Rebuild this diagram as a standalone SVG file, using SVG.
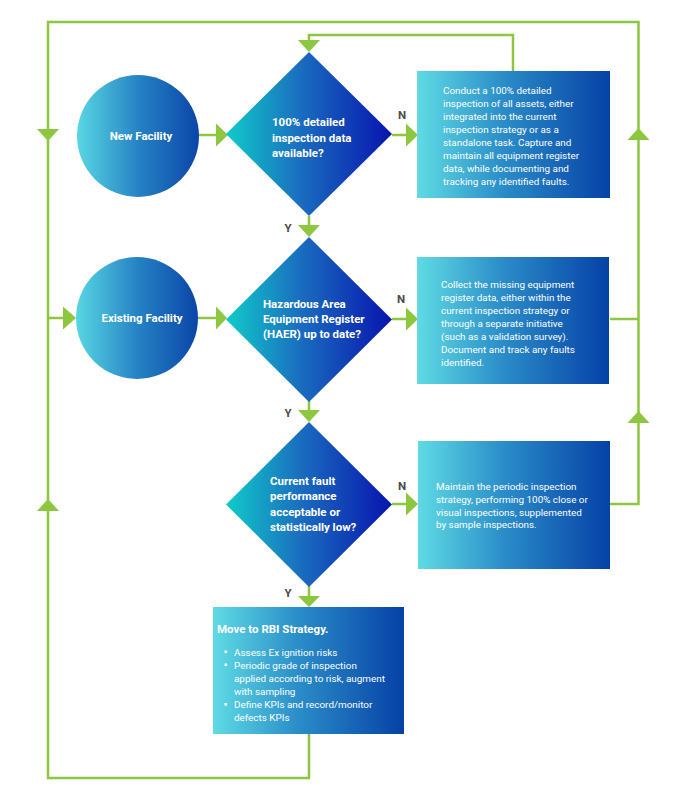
<svg xmlns="http://www.w3.org/2000/svg" width="690" height="806" viewBox="0 0 690 806">
<defs>
<linearGradient id="gBox" x1="0" y1="0" x2="1" y2="0">
<stop offset="0" stop-color="#5fdbe4"/>
<stop offset="0.45" stop-color="#2a8cc8"/>
<stop offset="1" stop-color="#0641a6"/>
</linearGradient>
<linearGradient id="gCircle" x1="0" y1="0" x2="1" y2="0">
<stop offset="0" stop-color="#58d7e3"/>
<stop offset="0.5" stop-color="#2683c4"/>
<stop offset="1" stop-color="#0a45a8"/>
</linearGradient>
<linearGradient id="gDiamond" x1="0" y1="0" x2="1" y2="0">
<stop offset="0" stop-color="#10cbc9"/>
<stop offset="0.45" stop-color="#1a6dbf"/>
<stop offset="1" stop-color="#0714ae"/>
</linearGradient>
<style>
.line{fill:none;stroke:#8dc63f;stroke-width:2.5}
.arr{fill:#8dc63f}
.lbl{font-family:Roboto,"Liberation Sans",sans-serif;font-weight:bold;font-size:11.5px;fill:#fff}
.txt{font-family:Roboto,"Liberation Sans",sans-serif;font-size:9.9px;fill:#fff}
.yn{font-family:Roboto,"Liberation Sans",sans-serif;font-weight:bold;font-size:11.5px;fill:#4a4a4a}
</style>
</defs>
<rect width="690" height="806" fill="#fff"/>
<g id="connectors">
<polyline class="line" points="309,734 309,778 48,778 48,22 638.5,22 638.5,504 610,504"/>
<line class="line" x1="48" y1="318" x2="64" y2="318"/>
<line class="line" x1="610" y1="319" x2="638.5" y2="319"/>
<polyline class="line" points="513,71 513,35 309,35 309,41"/>
<line class="line" x1="199" y1="135" x2="218" y2="135"/>
<line class="line" x1="198" y1="318" x2="218" y2="318"/>
<line class="line" x1="392" y1="135" x2="408" y2="135"/>
<line class="line" x1="392" y1="319" x2="408" y2="319"/>
<line class="line" x1="392" y1="504" x2="408" y2="504"/>
<line class="line" x1="309" y1="216" x2="309" y2="226"/>
<line class="line" x1="309" y1="401" x2="309" y2="411"/>
<line class="line" x1="309" y1="586" x2="309" y2="597"/>
<polygon class="arr" points="298,40 320,40 309,52"/>
<polygon class="arr" points="37,129 59,129 48,141"/>
<polygon class="arr" points="37,511 59,511 48,499"/>
<polygon class="arr" points="627.5,140 649.5,140 638.5,128"/>
<polygon class="arr" points="627.5,423 649.5,423 638.5,411"/>
<polygon class="arr" points="63,306.5 63,329.5 76,318"/>
<polygon class="arr" points="216,123.5 216,146.5 228,135"/>
<polygon class="arr" points="216,306.5 216,329.5 227,318"/>
<polygon class="arr" points="406,123.5 406,146.5 418,135"/>
<polygon class="arr" points="406,307.5 406,330.5 418,319"/>
<polygon class="arr" points="406,492.5 406,515.5 418,504"/>
<polygon class="arr" points="298,225 320,225 309,237"/>
<polygon class="arr" points="298,410 320,410 309,422"/>
<polygon class="arr" points="298,596 320,596 309,607"/>
<text class="yn" x="402" y="119" text-anchor="middle">N</text>
<text class="yn" x="401" y="303" text-anchor="middle">N</text>
<text class="yn" x="402" y="490" text-anchor="middle">N</text>
<text class="yn" x="288" y="232" text-anchor="middle">Y</text>
<text class="yn" x="288" y="417" text-anchor="middle">Y</text>
<text class="yn" x="288" y="597" text-anchor="middle">Y</text>
</g>
<g id="new-facility">
<circle cx="138" cy="136" r="61" fill="url(#gCircle)"/>
<text class="lbl" x="141" y="139.5" text-anchor="middle">New Facility</text>
</g>
<g id="existing-facility">
<circle cx="137" cy="318" r="61" fill="url(#gCircle)"/>
<text class="lbl" x="142" y="322" text-anchor="middle">Existing Facility</text>
</g>
<g id="decision-1">
<polygon points="309,52 392,134 309,216 226,134" fill="url(#gDiamond)"/>
<text class="lbl" x="272"><tspan x="272" y="126">100% detailed</tspan><tspan x="272" y="142">inspection data</tspan><tspan x="272" y="157">available?</tspan></text>
</g>
<g id="decision-2">
<polygon points="309,237 392,319.5 309,402 226,319.5" fill="url(#gDiamond)"/>
<text class="lbl" x="263"><tspan x="263" y="308">Hazardous Area</tspan><tspan x="263" y="323">Equipment Register</tspan><tspan x="263" y="338">(HAER) up to date?</tspan></text>
</g>
<g id="decision-3">
<polygon points="309,422 392,504.5 309,587 226,504.5" fill="url(#gDiamond)"/>
<text class="lbl" x="270"><tspan x="270" y="485">Current fault</tspan><tspan x="270" y="500">performance</tspan><tspan x="270" y="516">acceptable or</tspan><tspan x="270" y="531">statistically low?</tspan></text>
</g>
<g id="action-1">
<rect x="417" y="71" width="193" height="127" fill="url(#gBox)"/>
<text class="txt"><tspan x="443" y="93.5">Conduct a 100% detailed</tspan><tspan x="443" y="106.5">inspection of all assets, either</tspan><tspan x="443" y="119.5">integrated into the current</tspan><tspan x="443" y="132.5">inspection strategy or as a</tspan><tspan x="443" y="145.5">standalone task. Capture and</tspan><tspan x="443" y="158.5">maintain all equipment register</tspan><tspan x="443" y="171.5">data, while documenting and</tspan><tspan x="443" y="184.5">tracking any identified faults.</tspan></text>
</g>
<g id="action-2">
<rect x="417" y="257" width="192" height="127" fill="url(#gBox)"/>
<text class="txt"><tspan x="441" y="287.5">Collect the missing equipment</tspan><tspan x="441" y="300.5">register data, either within the</tspan><tspan x="441" y="313.5">current inspection strategy or</tspan><tspan x="441" y="326.5">through a separate initiative</tspan><tspan x="441" y="340">(such as a validation survey).</tspan><tspan x="441" y="353">Document and track any faults</tspan><tspan x="441" y="366">identified.</tspan></text>
</g>
<g id="action-3">
<rect x="418" y="441" width="192" height="128" fill="url(#gBox)"/>
<text class="txt"><tspan x="436" y="489.5">Maintain the periodic inspection</tspan><tspan x="436" y="502.5">strategy, performing 100% close or</tspan><tspan x="436" y="515.5">visual inspections, supplemented</tspan><tspan x="436" y="528">by sample inspections.</tspan></text>
</g>
<g id="rbi-strategy">
<rect x="213" y="607" width="191" height="127" fill="url(#gBox)"/>
<text class="lbl" x="217" y="633">Move to RBI Strategy.</text>
<g fill="#fff"><rect x="224.5" y="650.5" width="2.6" height="2.6"/><rect x="224.5" y="663.5" width="2.6" height="2.6"/><rect x="224.5" y="703" width="2.6" height="2.6"/></g>
<text class="txt"><tspan x="234" y="655.5">Assess Ex ignition risks</tspan><tspan x="234" y="668.5">Periodic grade of inspection</tspan><tspan x="234" y="681.5">applied according to risk, augment</tspan><tspan x="234" y="695">with sampling</tspan><tspan x="234" y="708">Define KPIs and record/monitor</tspan><tspan x="234" y="721">defects KPIs</tspan></text>
</g>
</svg>
